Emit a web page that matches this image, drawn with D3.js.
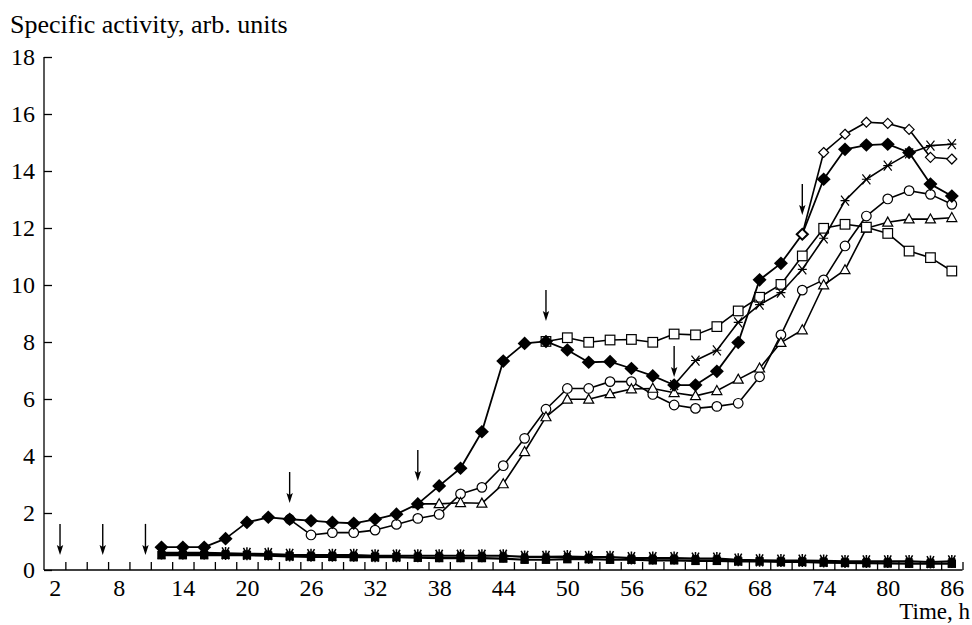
<!DOCTYPE html>
<html>
<head>
<meta charset="utf-8">
<script src="https://cdn.jsdelivr.net/npm/d3@7"></script>
<style>
  html, body { margin: 0; padding: 0; background: #fff; }
  svg { display: block; }
  text { font-family: "Liberation Serif", "Tinos", "DejaVu Serif", "Times New Roman", Times, serif; fill: #000; }
</style>
</head>
<body>
<svg id="chart" width="972" height="625"></svg>
<script>
// Sampling times, h
const hours = [12, 14, 16, 18, 20, 22, 24, 26, 28, 30, 32, 34, 36, 38, 40, 42, 44, 46, 48, 50,
               52, 54, 56, 58, 60, 62, 64, 66, 68, 70, 72, 74, 76, 78, 80, 82, 84, 86];

// Specific activity, arb. units; each series starts at its own hour
const filledDiamond = { start: 12, values: [0.8, 0.8, 0.8, 1.1, 1.67, 1.85, 1.78, 1.73, 1.67, 1.64,
  1.78, 1.96, 2.32, 2.95, 3.57, 4.85, 7.33, 7.95, 8.02, 7.72,
  7.29, 7.31, 7.07, 6.81, 6.49, 6.49, 6.97, 7.98, 10.18, 10.76,
  11.78, 13.71, 14.76, 14.91, 14.94, 14.65, 13.54, 13.12] };
const openDiamond = { start: 72, values: [11.78, 14.65, 15.29, 15.71, 15.67, 15.46, 14.48, 14.42] };
const openSquare = { start: 48, values: [8.02, 8.15, 7.99, 8.07, 8.09, 7.99, 8.28, 8.25, 8.54, 9.09,
  9.57, 10.02, 11.02, 11.99, 12.13, 12.03, 11.81, 11.19, 10.96, 10.49] };
const crossSeries = { start: 60, values: [6.49, 7.35, 7.71, 8.69, 9.31, 9.73, 10.55, 11.64, 12.96, 13.71,
  14.19, 14.62, 14.89, 14.94] };
const openCircle = { start: 24, values: [1.78, 1.23, 1.31, 1.31, 1.40, 1.60, 1.81, 1.95, 2.67, 2.90,
  3.66, 4.62, 5.64, 6.37, 6.37, 6.61, 6.61, 6.16, 5.79, 5.67,
  5.74, 5.85, 6.78, 8.25, 9.82, 10.18, 11.37, 12.42, 13.02, 13.31, 13.18, 12.83] };
const openTriangle = { start: 36, values: [2.32, 2.32, 2.36, 2.34, 3.02, 4.15, 5.37, 5.99, 5.99, 6.18,
  6.35, 6.37, 6.22, 6.11, 6.29, 6.69, 7.08, 7.98, 8.42, 10.0,
  10.53, 11.99, 12.2, 12.31, 12.31, 12.36] };
const lowAsterisk = { start: 12, values: [0.6, 0.6, 0.6, 0.58, 0.57, 0.56, 0.53, 0.52, 0.52, 0.52,
  0.5, 0.5, 0.5, 0.5, 0.5, 0.5, 0.5, 0.46, 0.46, 0.47,
  0.45, 0.45, 0.42, 0.42, 0.42, 0.4, 0.4, 0.36, 0.34, 0.33,
  0.33, 0.32, 0.3, 0.3, 0.3, 0.3, 0.28, 0.3] };
const lowSquare = { start: 12, values: [0.52, 0.52, 0.52, 0.53, 0.52, 0.5, 0.48, 0.46, 0.46, 0.45,
  0.45, 0.45, 0.43, 0.42, 0.42, 0.42, 0.4, 0.36, 0.36, 0.38,
  0.38, 0.36, 0.36, 0.34, 0.34, 0.32, 0.32, 0.3, 0.3, 0.28,
  0.28, 0.26, 0.25, 0.24, 0.23, 0.22, 0.22, 0.22] };

// Additions (arrows): time and activity level at the arrow tip
const arrowHours = [2.5, 6.5, 10.5, 24, 36, 48, 60, 72];
const arrowTips  = [0.53, 0.53, 0.53, 2.35, 3.12, 8.74, 6.77, 12.46];

// Axis ticks and labels
const xLabelTicks = [2, 8, 14, 20, 26, 32, 38, 44, 50, 56, 62, 68, 74, 80, 86];
const xMinorTicks = [3, 5, 7, 9, 11, 13, 15, 17, 19, 21, 23, 25, 27, 29, 31, 33, 35, 37, 39, 41, 43,
                     45, 47, 49, 51, 53, 55, 57, 59, 61, 63, 65, 67, 69, 71, 73, 75, 77, 79, 81, 83, 85, 87];
const yTicks = [0, 2, 4, 6, 8, 10, 12, 14, 16, 18];

const FONT = '"Liberation Serif", "Tinos", "DejaVu Serif", "Times New Roman", Times, serif';

const svg = d3.select("#chart");
const x = d3.scaleLinear().domain([1, 87]).range([44, 962.5]);
const y = d3.scaleLinear().domain([0, 18]).range([570, 57]);

// Axes
const gx = svg.append("g").attr("transform", `translate(0,${y(0)})`)
  .call(d3.axisBottom(x).tickValues(xMinorTicks).tickSize(-8).tickFormat(""));
gx.select(".domain").attr("d", `M${x(1)},0H${x(87)}`);
gx.selectAll("line, path").attr("stroke", "#000").attr("stroke-width", 1.3);

const gxl = svg.append("g").attr("transform", `translate(0,${y(0)})`)
  .call(d3.axisBottom(x).tickValues(xLabelTicks).tickSize(0).tickPadding(9).tickFormat(d3.format("d")));
gxl.attr("font-family", FONT);
gxl.select(".domain").remove();
gxl.selectAll("text").attr("font-size", 24).style("font-family", FONT);

const gy = svg.append("g").attr("transform", `translate(${x(1)},0)`)
  .call(d3.axisLeft(y).tickValues(yTicks).tickSize(-8).tickPadding(9).tickFormat(d3.format("d")));
gy.attr("font-family", FONT);
gy.select(".domain").attr("d", `M0,${y(0)}V${y(18)}`);
gy.selectAll("line, path").attr("stroke", "#000").attr("stroke-width", 1.3);
gy.selectAll("text").attr("font-size", 24).style("font-family", FONT);

svg.append("text").attr("x", 10).attr("y", 33).attr("font-size", 26).style("font-family", FONT)
  .text("Specific activity, arb. units");
svg.append("text").attr("x", 970).attr("y", 619).attr("font-size", 23).style("font-family", FONT)
  .attr("text-anchor", "end").text("Time, h");

// Marker shapes
const markers = {
  filledDiamond: (g) => g.append("path").attr("d", "M0,-6.8L7,0L0,6.8L-7,0Z").attr("fill", "#000"),
  openDiamond: (g) => g.append("path").attr("d", "M0,-5L5,0L0,5L-5,0Z").attr("fill", "#fff").attr("stroke", "#000").attr("stroke-width", 1.2),
  openSquare: (g) => g.append("rect").attr("x", -4.8).attr("y", -4.8).attr("width", 9.6).attr("height", 9.6).attr("fill", "#fff").attr("stroke", "#000").attr("stroke-width", 1.2),
  openCircle: (g) => g.append("circle").attr("r", 4.8).attr("fill", "#fff").attr("stroke", "#000").attr("stroke-width", 1.2),
  openTriangle: (g) => g.append("path").attr("d", "M0,-5.2L5,3.8L-5,3.8Z").attr("fill", "#fff").attr("stroke", "#000").attr("stroke-width", 1.2),
  cross: (g) => g.append("path").attr("d", "M-4,-5L4,5M4,-5L-4,5M-4.5,0H4.5").attr("stroke", "#000").attr("stroke-width", 1.2).attr("fill", "none"),
  lowSquare: (g) => g.append("rect").attr("x", -4.2).attr("y", -4.2).attr("width", 8.4).attr("height", 8.4).attr("fill", "#000"),
  lowAsterisk: (g) => {
    g.append("rect").attr("x", -3.5).attr("y", -3.5).attr("width", 7).attr("height", 7).attr("fill", "#000");
    g.append("path").attr("d", "M-3.5,-6L3.5,6M3.5,-6L-3.5,6M0,-6.5V6.5").attr("stroke", "#000").attr("stroke-width", 1.5);
  }
};

const line = d3.line().x(d => x(d.h)).y(d => y(d.v));

function points(series) {
  const i0 = hours.indexOf(series.start);
  return series.values.map((v, i) => ({ h: hours[i0 + i], v }));
}

function drawSeries(series, marker, lineWidth) {
  const pts = points(series);
  const g = svg.append("g");
  g.append("path").datum(pts).attr("d", line)
    .attr("fill", "none").attr("stroke", "#000").attr("stroke-width", lineWidth)
    .attr("stroke-linejoin", "round");
  g.selectAll("g.pt").data(pts).join("g").attr("class", "pt")
    .attr("transform", d => `translate(${x(d.h)},${y(d.v)})`)
    .each(function () { markers[marker](d3.select(this)); });
}

drawSeries(lowSquare, "lowSquare", 2.2);
drawSeries(lowAsterisk, "lowAsterisk", 2.2);
drawSeries(openCircle, "openCircle", 1.6);
drawSeries(openTriangle, "openTriangle", 1.6);
drawSeries(openSquare, "openSquare", 1.6);
drawSeries(crossSeries, "cross", 1.6);
drawSeries(filledDiamond, "filledDiamond", 1.8);
drawSeries(openDiamond, "openDiamond", 1.6);

// Arrows marking additions
const arrows = arrowHours.map((h, i) => ({ h, v: arrowTips[i] }));
const ga = svg.append("g");
ga.selectAll("path.shaft").data(arrows).join("path").attr("class", "shaft")
  .attr("d", d => `M${x(d.h)},${y(d.v) - 31}V${y(d.v) - 6}`)
  .attr("stroke", "#000").attr("stroke-width", 1.4);
ga.selectAll("path.head").data(arrows).join("path").attr("class", "head")
  .attr("d", d => { const cx = x(d.h), cy = y(d.v); return `M${cx},${cy}L${cx - 3.2},${cy - 10}L${cx},${cy - 8}L${cx + 3.2},${cy - 10}Z`; })
  .attr("fill", "#000");
</script>
</body>
</html>
